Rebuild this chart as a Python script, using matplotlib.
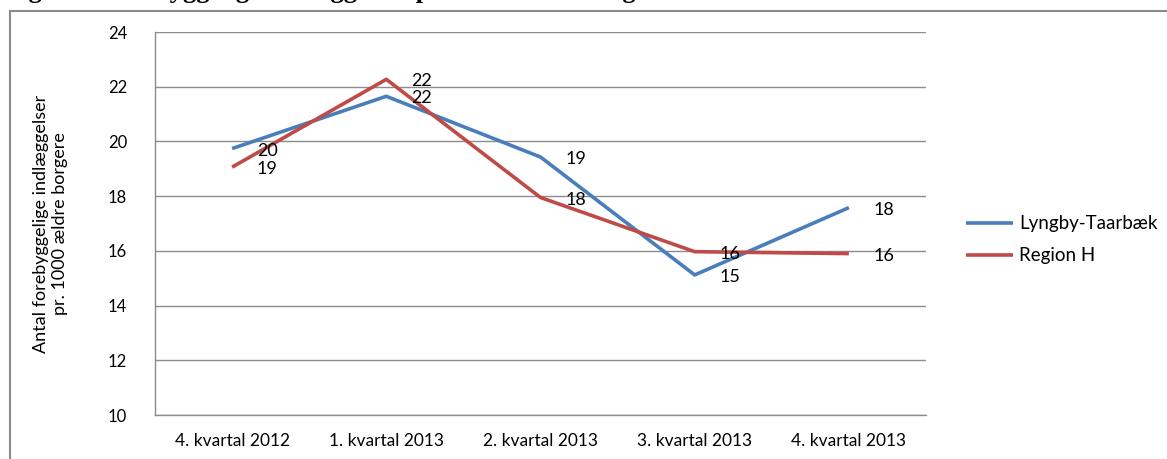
import numpy as np
import matplotlib.pyplot as plt
from matplotlib.patches import Rectangle

plt.rcParams['font.family'] = ['Lato', 'DejaVu Sans']

kvartaler = ['4. kvartal 2012', '1. kvartal 2013', '2. kvartal 2013',
             '3. kvartal 2013', '4. kvartal 2013']
lyngby = [19.74, 21.65, 19.43, 15.12, 17.58]
region_h = [19.06, 22.27, 17.95, 15.97, 15.90]
serier = ['Lyngby-Taarbæk', 'Region H']
farver = ['#4A7EBB', '#BE4B48']

W, H = 1167, 459
fig = plt.figure(figsize=(W / 100, H / 100), dpi=100)

# caption from the document above the chart, cut off at the top edge
fig.text(5 / W, 1 + 2.4 / H, 'Figur 4: Forebyggelige indlæggelser pr. 1000 ældre borgere',
         family='Liberation Serif', weight='bold', fontsize=19, va='baseline', ha='left')

# outer chart frame (runs off the right and bottom edge)
fig.patches.append(Rectangle((10 / W, -0.1), 1.2, 1 - 11 / H + 0.1, transform=fig.transFigure,
                             fill=False, edgecolor='#8c8c8c', linewidth=1.5))

ax = fig.add_axes([155 / W, 1 - 415 / H, (926 - 155) / W, (415 - 32) / H])
x = np.arange(len(kvartaler))

for vals, navn, c in zip([lyngby, region_h], serier, farver):
    ax.plot(x, vals, color=c, linewidth=2.6, label=navn, solid_capstyle='butt')
    for xi, v in zip(x, vals):
        ax.annotate(f'{round(v):.0f}', (xi, v), xytext=(35, -2), textcoords='offset pixels',
                    ha='center', va='center', fontsize=13)

ax.set_xlim(-0.5, len(kvartaler) - 0.5)
ax.set_ylim(10, 24)
ax.set_yticks(range(10, 25, 2))
ax.set_xticks(x)
ax.set_xticklabels(kvartaler, fontsize=12.5)
ax.tick_params(axis='y', length=0, pad=20, labelsize=12)
ax.tick_params(axis='x', length=0, pad=13)
ax.grid(axis='y', color='#8c8c8c', linewidth=1)
ax.set_axisbelow(True)
for s in ['top', 'right']:
    ax.spines[s].set_visible(False)
for s in ['left', 'bottom']:
    ax.spines[s].set_color('#8c8c8c')
    ax.spines[s].set_linewidth(1)

ax.set_ylabel('Antal forebyggelige indlæggelser\npr. 1000 ældre borgere', fontsize=13,
              linespacing=1.25)
ax.yaxis.set_label_coords(-(155 - 68) / (926 - 155), 0.5)

ax.legend(loc='center left', bbox_to_anchor=(957 / W, 1 - 240 / H), bbox_transform=fig.transFigure,
          frameon=False, fontsize=13.5, handlelength=2.5, handletextpad=0.3, labelspacing=0.8,
          borderpad=0)

fig.savefig('out.png', dpi=100)
